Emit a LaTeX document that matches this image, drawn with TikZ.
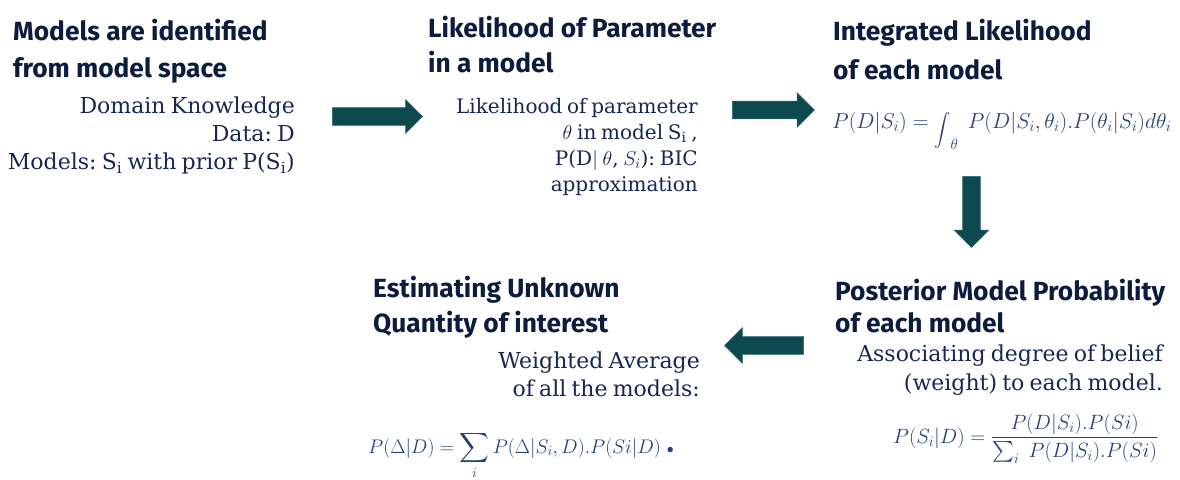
\RequirePackage{fix-cm}
\documentclass[tikz,border=0pt]{standalone}
\usepackage{amsmath}
\usepackage{graphicx}
\usepackage{fontspec}
\usetikzlibrary{shapes.arrows}
\newfontfamily\headfont{Fira Sans}
\newfontfamily\slabfont{DejaVu Serif}[WordSpace=0.75]
\frenchspacing

\definecolor{titlec}{RGB}{12,28,62}
\definecolor{bodyc}{RGB}{24,38,82}
\definecolor{mathc}{RGB}{38,64,118}
\definecolor{arrowc}{RGB}{13,74,80}

% a medium-sized integral sign
\newcommand{\midint}{\mathop{\raisebox{-7pt}{\scalebox{0.78}{$\displaystyle\int$}}}\nolimits}

\tikzset{
  heading/.style={anchor=north west, inner sep=0pt, align=left, text=titlec,
    font=\headfont\bfseries\fontsize{26.3}{37}\selectfont},
  bodytext/.style={anchor=north east, inner sep=0pt, align=right, text=bodyc,
    font=\slabfont\fontsize{22}{28}\selectfont},
  formula/.style={anchor=base west, inner sep=0pt, text=mathc,
    font=\fontsize{21.6}{26}\selectfont},
  blockarrow/.style={single arrow, fill=arrowc, draw=arrowc!85!white, line width=0.6pt,
    inner sep=8.5pt, text height=0pt, text depth=0pt, text width=0pt,
    single arrow head indent=0pt, single arrow tip angle=90},
}

\begin{document}
\begin{tikzpicture}[x=1pt, y=-1pt]
\path[use as bounding box] (0,0) rectangle (1180,479);

% Step 1: model space
\node[heading] (h1) at (13,18.5) {Models are identified\\from model space};
\node[bodytext] (b1) at (295,96.5) {Domain Knowledge\\Data: D\\Models: S\textsubscript{i} with prior P(S\textsubscript{i})};

% Step 2: parameter likelihood
\node[heading, font=\headfont\bfseries\fontsize{26.3}{35}\selectfont] (h2) at (428,15.5)
  {Likelihood of Parameter\\in a model};
\node[bodytext, font=\slabfont\fontsize{20}{26}\selectfont] (b2) at (698,98)
  {Likelihood of parameter\\$\theta$ in model S\textsubscript{i} ,\\P(D$|$ $\theta$, $S_i$): BIC\\approximation};

% Step 3: integrated likelihood
\node[heading, font=\headfont\bfseries\fontsize{26.3}{39}\selectfont] (h3) at (833,18.5)
  {Integrated Likelihood\\of each model};
\node[formula] (f3) at (832,128)
  {$P(D|S_i) = \midint_\theta\; P(D|S_i,\theta_i).P(\theta_i|S_i)d\theta_i$};

% Step 4: posterior model probability
\node[heading, font=\headfont\bfseries\fontsize{26.3}{32}\selectfont] (h4) at (835,278.5)
  {Posterior Model Probability\\of each model};
\node[bodytext, font=\slabfont\fontsize{22}{29}\selectfont] (b4) at (1163,344.5)
  {Associating degree of belief\\(weight) to each model.};
\node[formula, font=\fontsize{20.7}{24}\selectfont] (f4) at (893,443)
  {$P(S_i|D) = \dfrac{P(D|S_i).P(Si)}{\sum_i\; P(D|S_i).P(Si)}$};

% Step 5: quantity of interest
\node[heading, font=\headfont\bfseries\fontsize{26.3}{35}\selectfont] (h5) at (373,275.5)
  {Estimating Unknown\\Quantity of interest};
\node[bodytext] (b5) at (700,351.5) {Weighted Average\\of all the models:};
\node[formula, font=\fontsize{19.7}{24}\selectfont] (f5) at (368,453)
  {$P(\Delta|D) = \displaystyle\sum_i P(\Delta|S_i,D).P(Si|D)\ {\scriptstyle\bullet}$};

% Block arrows between the steps
\node[blockarrow, minimum height=90pt, minimum width=33pt, single arrow head extend=8pt]
  (a1) at (373,116.5) {};
\node[blockarrow, minimum height=82pt, minimum width=34pt, single arrow head extend=8.5pt]
  (a2) at (769,110) {};
\node[blockarrow, shape border rotate=270, minimum height=71pt, minimum width=34pt,
  single arrow head extend=8.5pt] (a3) at (971.5,207.5) {};
\node[blockarrow, shape border rotate=180, minimum height=79pt, minimum width=35pt,
  single arrow head extend=9pt] (a4) at (768.5,345.5) {};
\end{tikzpicture}
\end{document}
